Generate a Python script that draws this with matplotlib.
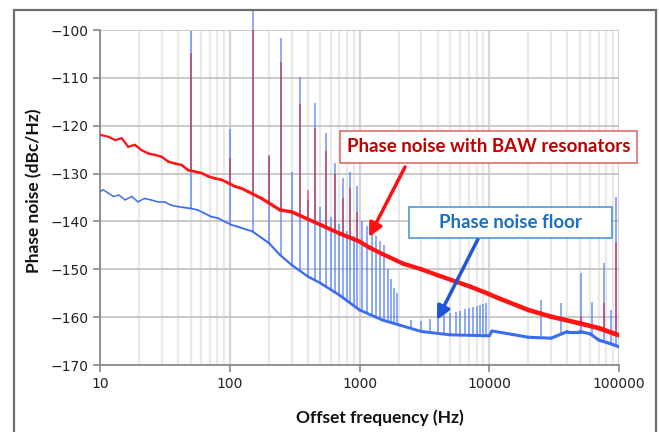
import numpy as np
import matplotlib
matplotlib.use("Agg")
import matplotlib.pyplot as plt
from matplotlib.patches import Rectangle
from matplotlib.collections import LineCollection
from matplotlib.ticker import FuncFormatter, LogLocator, NullFormatter

# ---- data ----
# floor of the trace with BAW resonators (red)
red_f = [10, 11.6, 13.1, 14.7, 16.5, 18.6, 20.9, 23.6, 26.5, 29.9, 33.6, 37.8, 42.6,
         47.9, 54, 60.8, 68.4, 77, 86.7, 97.6, 110, 123.5, 139, 176, 244, 300, 500,
         700, 1000, 1200, 1500, 2160, 3000, 3970, 7100, 10000, 11700, 20000, 30000,
         50000, 70000, 100000]
red_db = [-121.9, -122.3, -123.0, -122.6, -124.4, -124.0, -125.1, -125.8, -126.1,
          -126.5, -127.5, -127.9, -128.2, -129.3, -129.6, -129.9, -130.6, -131.0,
          -131.3, -132.0, -132.7, -133.1, -133.8, -135.2, -137.6, -138.0, -140.7,
          -142.5, -144.2, -145.5, -146.8, -148.8, -150.0, -151.2, -153.6, -155.2,
          -156.0, -158.5, -159.9, -161.3, -162.3, -163.8]

# measurement noise floor (blue)
blue_f = [10, 10.6, 11.6, 12.7, 14, 15.6, 17.6, 19.6, 22, 24.7, 27.8, 31.4, 35.3,
          39.7, 44.7, 50.4, 56.7, 63.8, 71.8, 80.8, 91, 102.5, 115, 150, 200, 244,
          300, 400, 500, 700, 1000, 1500, 2000, 3000, 5000, 10000, 10500, 15000,
          20000, 30000, 40000, 50000, 60000, 70000, 85000, 100000]
blue_db = [-133.8, -133.4, -134.1, -134.8, -134.5, -135.5, -134.8, -135.9, -135.2,
           -135.5, -135.9, -135.9, -136.6, -136.9, -137.1, -137.3, -137.6, -138.3,
           -139.0, -139.3, -140.0, -140.7, -141.1, -142.1, -144.5, -147.0, -149.1,
           -151.5, -152.9, -155.4, -158.5, -160.6, -161.6, -163.0, -163.7, -163.9,
           -162.9, -163.6, -164.2, -164.4, -163.0, -163.0, -163.5, -164.8, -165.5,
           -166.2]

# spurs on the floor trace (mains harmonics, comb, HF spurs)
blue_spur_f = [50, 100, 150, 200, 250, 300, 350, 400, 450, 500, 550, 600, 650, 700,
               750, 800, 850, 900, 950, 1050, 1150, 1250, 1350, 1450, 1550, 1650,
               1750, 1850, 1950, 2500, 3000, 3500, 4000, 4500, 5000, 5500, 6000,
               6500, 7000, 7500, 8000, 8500, 9000, 9500, 25200, 35700, 50900,
               61500, 76600, 86700, 94000]
blue_spur_top = [-100.3, -120.7, -96.0, -126.5, -101.6, -129.6, -109.9, -135.5,
                 -115.2, -137.0, -121.6, -139.0, -127.7, -140.5, -131.0, -142.0,
                 -129.6, -143.0, -132.5, -140.0, -141.0, -142.0, -143.0, -144.0,
                 -145.0, -150.0, -152.0, -154.0, -155.0, -160.6, -160.8, -160.3,
                 -159.9, -159.5, -159.2, -159.0, -158.7, -158.4, -158.1, -157.9,
                 -157.6, -157.4, -157.2, -157.0, -156.4, -157.0, -150.8, -156.8,
                 -148.7, -158.5, -134.8]

# spurs on the BAW trace
red_spur_f = [50, 100, 150, 200, 250, 350, 400, 450, 550, 650, 750, 850, 950,
              50900, 76600, 94000]
red_spur_top = [-104.9, -126.8, -98.3, -126.1, -106.6, -115.5, -133.4, -120.4,
                -125.2, -130.0, -135.0, -133.0, -138.0, -159.9, -157.0, -144.2]

x_ticks = [10, 100, 1000, 10000, 100000]
y_ticks = [-170, -160, -150, -140, -130, -120, -110, -100]

# ---- figure ----
W, H = 659, 432
fig = plt.figure(figsize=(W / 100, H / 100), dpi=100)
ax = fig.add_axes([100 / W, 1 - 365 / H, 519 / W, 335 / H])

red_c = '#ff1414'
blue_c = '#3b6df2'


def trace(f, db, color, widths, z):
    # the analyser trace gets thicker (denser points) towards high offsets
    f = np.asarray(f, float)
    db = np.asarray(db, float)
    pts = np.column_stack([f, db]).reshape(-1, 1, 2)
    segs = np.concatenate([pts[:-1], pts[1:]], axis=1)
    mid = np.log10(np.sqrt(f[:-1] * f[1:]))
    lw = np.interp(mid, [1, 2, 3, 5], widths)
    lc = LineCollection(segs, colors=color, linewidths=lw, capstyle='round',
                        joinstyle='round', zorder=z)
    ax.add_collection(lc)


# spur stems start on the trace they belong to
b_base = np.interp(np.log10(blue_spur_f), np.log10(blue_f), blue_db)
r_base = np.interp(np.log10(red_spur_f), np.log10(red_f), red_db)

ax.vlines(blue_spur_f, b_base, blue_spur_top, colors='#4f7df7', lw=1.3,
          alpha=0.7, zorder=3, clip_on=False)
trace(blue_f, blue_db, blue_c, [1.0, 1.3, 2.0, 2.3], 4)
trace(red_f, red_db, red_c, [1.5, 2.0, 3.0, 3.4], 5)
ax.vlines(red_spur_f, r_base, red_spur_top, colors='#e01020', lw=1.3,
          alpha=0.55, zorder=6)

ax.set_xscale('log')
ax.set_xlim(10, 100000)
ax.set_ylim(-170, -100)
ax.set_xticks(x_ticks)
ax.set_yticks(y_ticks)
ax.xaxis.set_major_formatter(FuncFormatter(lambda v, p: '%d' % v))
ax.xaxis.set_minor_locator(LogLocator(base=10, subs=np.arange(2, 10)))
ax.xaxis.set_minor_formatter(NullFormatter())

ax.grid(which='major', axis='y', color='#c6c6c6', lw=1.3, zorder=0)
ax.grid(which='major', axis='x', color='#d6d6d6', lw=1.6, zorder=0)
ax.grid(which='minor', axis='x', color='#e9e9e9', lw=1.6, zorder=0)
ax.set_axisbelow(True)

for s in ['top', 'right']:
    ax.spines[s].set_visible(False)
for s in ['left', 'bottom']:
    ax.spines[s].set_color('#8a8a8a')
    ax.spines[s].set_linewidth(1.3)

ax.tick_params(which='major', length=5, color='#8a8a8a', width=1.2,
               labelsize=10, labelcolor='#222222')
ax.tick_params(which='minor', length=0)

lab_font = dict(family='Lato', weight='bold', size=12.5, color='#111111')
ax.set_xlabel('Offset frequency (Hz)', **lab_font)
ax.xaxis.set_label_coords(0.539, -0.134)
ax.set_ylabel('Phase noise (dBc/Hz)', **lab_font)
ax.yaxis.set_label_coords(-0.112, 0.52)

# outer frame of the picture
fig.patches.append(Rectangle((14 / W, -0.05), 642 / W, 1 - 10 / H + 0.05,
                             transform=fig.transFigure, fill=False,
                             ec='#6e6e6e', lw=1.6, zorder=10))


# call-out boxes
def callout(x0, y0, x1, y1, text, tcol, ecol):
    fig.patches.append(Rectangle((x0 / W, 1 - y1 / H), (x1 - x0) / W, (y1 - y0) / H,
                                 transform=fig.transFigure, fc='white',
                                 ec=ecol, lw=1.1, zorder=8))
    fig.text((x0 + x1) / 2 / W, 1 - (y0 + y1) / 2 / H, text, ha='center',
             va='center', color=tcol, family='Lato', weight='bold',
             size=13.5, zorder=9)


callout(340, 131, 637, 163, 'Phase noise with BAW resonators', '#c00000', '#d96060')
callout(409, 207, 612, 238, 'Phase noise floor', '#1a70c4', '#3c8fd2')

ax.annotate('', xy=(369 / W, 1 - 237 / H), xytext=(405 / W, 1 - 167 / H),
            xycoords='figure fraction', textcoords='figure fraction',
            arrowprops=dict(arrowstyle='-|>', color='#ff1010', lw=2.5,
                            mutation_scale=20, shrinkA=0, shrinkB=0), zorder=9)
ax.annotate('', xy=(437 / W, 1 - 320 / H), xytext=(478 / W, 1 - 239 / H),
            xycoords='figure fraction', textcoords='figure fraction',
            arrowprops=dict(arrowstyle='-|>', color='#1f55d8', lw=2.5,
                            mutation_scale=20, shrinkA=0, shrinkB=0), zorder=9)

plt.savefig('out.png', dpi=100)
